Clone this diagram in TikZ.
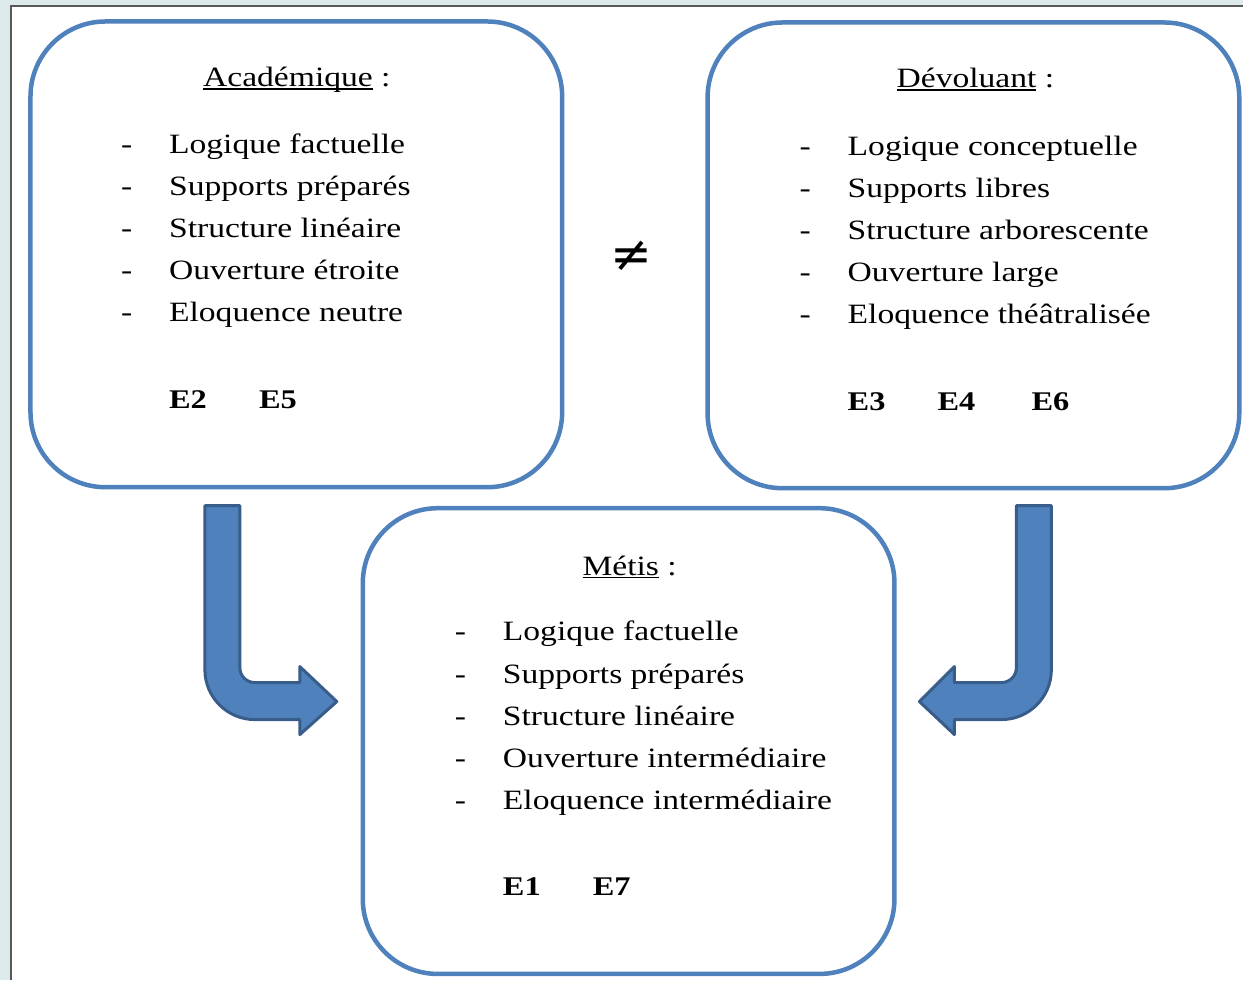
\documentclass[tikz,border=0pt]{standalone}
\usepackage{fontspec}
\setmainfont[FakeStretch=1.2]{Liberation Serif}
\newfontfamily\symbole{DejaVu Sans}
\usetikzlibrary{positioning}

\definecolor{boxblue}{HTML}{4F81BD}
\definecolor{arrowline}{HTML}{385D8A}
\definecolor{screen}{HTML}{DDEAEC}

% underline set close to the baseline, as in the original
\newcommand{\souligne}[1]{\setbox0\hbox{#1}\rlap{\rule[-0.1em]{\wd0}{1.5pt}}\box0\relax}

\begin{document}
\begin{tikzpicture}[x=1pt,y=-1pt]
\tikzstyle{bloc}=[rectangle, rounded corners=75pt, draw=boxblue, line width=4.5pt, minimum width=532pt, minimum height=466pt]
\tikzstyle{titre}=[anchor=base, inner sep=0pt, font=\fontsize{28}{34}\selectfont]
\tikzstyle{item}=[anchor=base west, inner sep=0pt, font=\fontsize{28}{34}\selectfont]
\tikzstyle{tiret}=[anchor=base west, inner sep=0pt, font=\fontsize{28}{34}\selectfont]
\tikzstyle{code}=[anchor=base west, inner sep=0pt, font=\fontsize{27}{34}\selectfont\bfseries]
\tikzstyle{fleche}=[fill=boxblue, draw=arrowline, line width=3pt, line join=round]

% background of the screenshot
\fill[screen] (0,0) rectangle (1244,981);
\fill[white] (11,6) rectangle (1244,981);
\draw[black!65, line width=1.5pt] (11,981) -- (11,6) -- (1244,6);

% the three boxes
\node (acad) [bloc] at (296.5,254.5) {};
\node (devol) [bloc] at (974,255.5) {};
\node (metis) [bloc] at (629,741.5) {};

% Academique
\node (acadT) [titre] at (297,87) {\souligne{Académique} :};
\node (acadD1) [tiret] at (121,154) {-};
\node (acadD2) [tiret] at (121,196) {-};
\node (acadD3) [tiret] at (121,238) {-};
\node (acadD4) [tiret] at (121,280) {-};
\node (acadD5) [tiret] at (121,322) {-};
\node (acad1) [item] at (169,154) {Logique factuelle};
\node (acad2) [item] at (169,196) {Supports préparés};
\node (acad3) [item] at (169,238) {Structure linéaire};
\node (acad4) [item] at (169,280) {Ouverture étroite};
\node (acad5) [item] at (169,322) {Eloquence neutre};
\node (acadE2) [code] at (169,409) {E2};
\node (acadE5) [code] at (259,409) {E5};

% Devoluant
\node (devolT) [titre] at (976,88) {\souligne{Dévoluant} :};
\node (devolD1) [tiret] at (800,156) {-};
\node (devolD2) [tiret] at (800,198) {-};
\node (devolD3) [tiret] at (800,240) {-};
\node (devolD4) [tiret] at (800,282) {-};
\node (devolD5) [tiret] at (800,324) {-};
\node (devol1) [item] at (848,156) {Logique conceptuelle};
\node (devol2) [item] at (848,198) {Supports libres};
\node (devol3) [item] at (848,240) {Structure arborescente};
\node (devol4) [item] at (848,282) {Ouverture large};
\node (devol5) [item] at (848,324) {Eloquence théâtralisée};
\node (devolE3) [code] at (848,411) {E3};
\node (devolE4) [code] at (938,411) {E4};
\node (devolE6) [code] at (1032,411) {E6};

% Metis
\node (metisT) [titre] at (630,576) {\souligne{Métis} :};
\node (metisD1) [tiret] at (455,641) {-};
\node (metisD2) [tiret] at (455,684) {-};
\node (metisD3) [tiret] at (455,726) {-};
\node (metisD4) [tiret] at (455,768) {-};
\node (metisD5) [tiret] at (455,810) {-};
\node (metis1) [item] at (503,641) {Logique factuelle};
\node (metis2) [item] at (503,684) {Supports préparés};
\node (metis3) [item] at (503,726) {Structure linéaire};
\node (metis4) [item] at (503,768) {Ouverture intermédiaire};
\node (metis5) [item] at (503,810) {Eloquence intermédiaire};
\node (metisE1) [code] at (503,896) {E1};
\node (metisE7) [code] at (593,896) {E7};

% the sign between the two top boxes
\node (diff) [inner sep=0pt, font=\fontsize{50}{50}\selectfont\symbole] at (632,256) {≠};

% bent arrows towards Metis
\draw[fleche] (205,506) -- (240,506) -- (240,668) .. controls (240,676.3) and (246.7,683) .. (255,683) -- (300,683) -- (300,667) -- (337,702) -- (300,735) -- (300,720) -- (255,720) .. controls (227.4,720) and (205,697.6) .. (205,670) -- cycle;
\draw[fleche] (1052,506) -- (1017,506) -- (1017,668) .. controls (1017,676.3) and (1010.3,683) .. (1002,683) -- (955,683) -- (955,667) -- (920,702) -- (955,735) -- (955,720) -- (1002,720) .. controls (1029.6,720) and (1052,697.6) .. (1052,670) -- cycle;

\end{tikzpicture}
\end{document}
